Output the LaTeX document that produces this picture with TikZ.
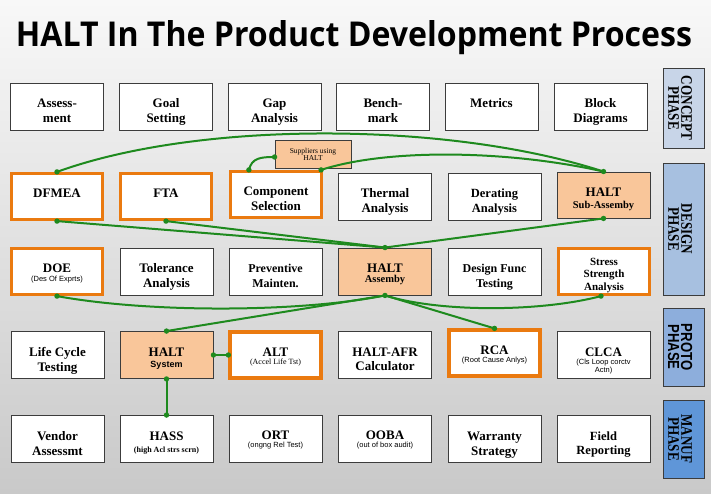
\documentclass[tikz,border=0pt]{standalone}
\usepackage{fontspec}
\setmainfont{Liberation Serif}
\newfontfamily\lsans{Liberation Sans}
\newfontfamily\osans{Open Sans}
\usepackage{graphicx}
\definecolor{boxline}{HTML}{3C3C3C}
\definecolor{orng}{HTML}{EA7A10}
\definecolor{peach}{HTML}{F9C69A}
\definecolor{grn}{HTML}{1E8A1E}
\definecolor{bgtop}{HTML}{F8F8F8}
\definecolor{bgbot}{HTML}{C9C9C9}
\definecolor{phconcept}{HTML}{C8D5E8}
\definecolor{phdesign}{HTML}{A7C0E0}
\definecolor{phproto}{HTML}{8DAEDC}
\definecolor{phmanuf}{HTML}{5F96D8}
\newcommand\subsans[1]{{\lsans\mdseries\fontsize{7.5}{8}\selectfont #1}}
\newcommand\phaselbl[3]{\hspace*{-7pt}\rotatebox{-90}{\scalebox{0.82}[1]{\vbox{#1\baselineskip=13pt\lineskiplimit=-20pt\lineskip=0pt\halign{\hfil##\hfil\cr#2\cr#3\cr}}}}}
\begin{document}
\begin{tikzpicture}[x=1pt,y=-1pt,
  box/.style={draw=boxline, line width=0.9pt, fill=white, minimum width=93pt,
    minimum height=47pt, inner sep=0pt, align=center,
    font=\fontsize{13}{15}\selectfont\bfseries, text height=9pt, text depth=7pt},
  tl/.style={text height=#1, text depth=0pt},
  obox/.style={box, draw=orng, line width=3.2pt, minimum width=91pt, minimum height=46pt},
  hbox/.style={box, fill=peach},
  phase/.style={draw=boxline, line width=0.9pt, minimum width=41pt, inner sep=0pt},
  conn/.style={draw=grn, line width=2pt},
  supbox/.style={draw=boxline, line width=0.9pt, fill=peach, minimum width=76pt,
    minimum height=28pt, inner sep=0pt, align=center, font=\fontsize{7.5}{7}\selectfont}
]
\useasboundingbox (0,0) rectangle (711,494);
\shade[top color=bgtop, bottom color=bgbot] (0,0) rectangle (711,494);

% title
\node[anchor=base, inner sep=0pt] (title) at (354,47)
  {\resizebox{676pt}{26pt}{\osans\bfseries HALT In The Product Development Process}};

% row 1: concept
\node[box, tl=32pt] (a1) at (57,106.5) {Assess-\\ment};
\node[box, tl=32pt] (a2) at (166,106.5) {Goal\\Setting};
\node[box, tl=32pt] (a3) at (274.5,106.5) {Gap\\Analysis};
\node[box, tl=32pt] (a4) at (383,106.5) {Bench-\\mark};
\node[box] (a5) at (491.5,106.5) {Metrics};
\node[box, tl=32pt] (a6) at (600.5,106.5) {Block\\Diagrams};

% row 2
\node[obox] (dfmea) at (57,196.5) {DFMEA};
\node[obox] (fta) at (166,196.5) {FTA};
\node[obox, tl=32pt] (comp) at (276,194.5) {Component\\Selection};
\node[box, tl=32pt] (thermal) at (385,196.5) {Thermal\\Analysis};
\node[box, tl=32pt, font=\fontsize{12.5}{15}\selectfont\bfseries] (derating) at (494.5,196.5) {Derating\\Analysis};
\node[hbox, tl=26pt, minimum height=46pt] (hsub) at (603.5,195) {HALT\\[-3pt]{\fontsize{10.5}{12}\selectfont Sub-Assemby}};
\node[supbox] (supp) at (313,154) {Suppliers using\\HALT};

% row 3
\node[obox, tl=20pt] (doe) at (57,271.5) {DOE\\[-6pt]\subsans{(Des Of Exprts)}};
\node[box, tl=32pt] (tol) at (166.5,271.5) {Tolerance\\Analysis};
\node[box, tl=32pt, font=\fontsize{12}{15}\selectfont\bfseries] (prev) at (275.5,271.5) {Preventive\\Mainten.};
\node[hbox, tl=22pt] (hasm) at (385,271.5) {HALT\\[-5pt]{\fontsize{10.5}{12}\selectfont Assemby}};
\node[box, tl=32pt, font=\fontsize{12}{15}\selectfont\bfseries] (dft) at (494.5,271.5) {Design Func\\Testing};
\node[obox, font=\fontsize{11}{12.5}\selectfont\bfseries, tl=37pt] (stress) at (604,271.5) {Stress\\Strength\\Analysis};

% row 4
\node[box, tl=32pt] (life) at (57.5,355) {Life Cycle\\Testing};
\node[hbox, tl=24pt] (hsys) at (166.5,355) {HALT\\[-4pt]{\lsans\fontsize{9}{10}\selectfont System}};
\node[obox, tl=19pt] (alt) at (275.5,355) {ALT\\[-6.5pt]{\mdseries\fontsize{8}{9}\selectfont (Accel Life Tst)}};
\node[box, tl=31pt] (afr) at (385,355) {HALT-AFR\\[-0.5pt]Calculator};
\node[obox, tl=19pt] (rca) at (494.5,353) {RCA\\[-7pt]\subsans{(Root Cause Anlys)}};
\node[box, tl=34pt] (clca) at (603.5,355) {CLCA\\[-7pt]\subsans{(Cls Loop corctv}\\[-7pt]\subsans{Actn)}};

% row 5
\node[box, tl=32pt] (vendor) at (57.5,439) {Vendor\\Assessmt};
\node[box, tl=27pt] (hass) at (166.5,439) {HASS\\[-2.5pt]{\fontsize{8}{9}\selectfont (high Acl strs scrn)}};
\node[box, tl=17pt] (ort) at (275.5,439) {ORT\\[-6.5pt]\subsans{(ongng Rel Test)}};
\node[box, tl=17pt] (ooba) at (385,439) {OOBA\\[-6.5pt]\subsans{(out of box audit)}};
\node[box, tl=32pt] (warr) at (494.5,439) {Warranty\\Strategy};
\node[box, tl=30pt, font=\fontsize{12.5}{14}\selectfont\bfseries] (field) at (603.5,439) {Field\\Reporting};

% phase labels
\node[phase, fill=phconcept, minimum height=80pt] (pconcept) at (683.5,108)
  {\phaselbl{\fontsize{16}{13}\selectfont\bfseries}{CONCEPT}{PHASE}};
\node[phase, fill=phdesign, minimum height=132pt] (pdesign) at (683.5,229)
  {\phaselbl{\fontsize{16}{13}\selectfont\bfseries}{DESIGN}{PHASE}};
\node[phase, fill=phproto, minimum height=78pt] (pproto) at (683.5,347)
  {\phaselbl{\lsans\fontsize{16}{13}\selectfont\bfseries}{PROTO}{PHASE}};
\node[phase, fill=phmanuf, minimum height=78pt] (pmanuf) at (683.5,439)
  {\phaselbl{\fontsize{16}{13}\selectfont\bfseries}{MANUF}{PHASE}};

% connector end points
\coordinate (compL) at ([xshift=20pt]comp.north west);
\coordinate (compR) at ([xshift=-2pt]comp.north east);
\coordinate (suppL) at ([yshift=-3pt]supp.west);
\coordinate (stressB) at ([xshift=-3pt]stress.south);

% connectors
\draw[conn] (dfmea.north) .. controls +(143,-52) and +(-153,-50) .. (hsub.north);
\draw[conn] (compR) .. controls +(68,-22) and +(-93,-21) .. (hsub.north);
\draw[conn] (compL) .. controls +(3,-12) and +(-14,0) .. (suppL);
\draw[conn] (dfmea.south) -- (hasm.north);
\draw[conn] (fta.south) -- (hasm.north);
\draw[conn] (hsub.south) -- (hasm.north);
\draw[conn] (doe.south) .. controls +(93,17) and +(-85,17) .. (hasm.south);
\draw[conn] (hsys.north) -- (hasm.south);
\draw[conn] (hasm.south) -- (rca.north);
\draw[conn] (hasm.south) .. controls +(55,17) and +(-61,16) .. (stressB);
\draw[conn] (hsys.east) -- (alt.west);
\draw[conn] (hsys.south) -- (hass.north);

\foreach \p in {dfmea.north, hsub.north, compR, compL, suppL, dfmea.south,
  fta.south, hasm.north, hsub.south, doe.south, hasm.south, hsys.north,
  rca.north, stressB, hsys.east, alt.west, hsys.south, hass.north}
  \fill[grn] (\p) circle (2.7pt);
\end{tikzpicture}
\end{document}
